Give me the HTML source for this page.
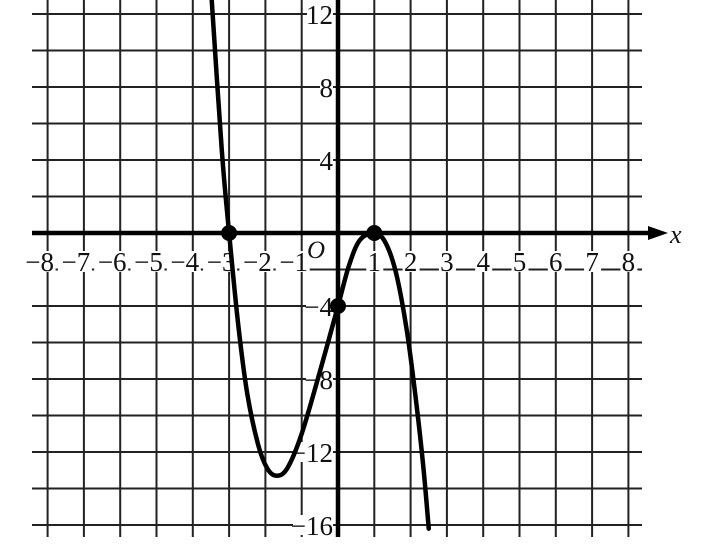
<!DOCTYPE html>
<html><head><meta charset="utf-8"><style>
html,body{margin:0;padding:0;background:#fff;}
svg{display:block;}
text{font-family:"Liberation Serif",serif;fill:#111;}
</style></head><body>
<svg id="chart" width="703" height="559" viewBox="0 0 703 559" xmlns="http://www.w3.org/2000/svg">
<g id="grid"></g>
<g id="axes"></g>
<g id="labels"></g>
<g id="curve"></g>
</svg>
<script>
const xTicks = [-8,-7,-6,-5,-4,-3,-2,-1,1,2,3,4,5,6,7,8];
const yTicks = [12,8,4,-4,-8,-12,-16];
const curveX = [-3.48,-3.2,-3,-2.75,-2.5,-2.2,-1.95,-1.7,-1.4,-1,-0.5,0,0.3,0.6,1,1.3,1.6,1.9,2.15,2.35,2.5];
const curveY = [12.8,4.5,0,-5,-8.8,-11.6,-12.9,-13.3,-12.9,-11,-7.6,-4,-1.8,-0.4,0,-0.5,-2.2,-5.4,-9.2,-12.8,-16.2];
const pointX = [-3,0,1];
const pointY = [0,-4,0];

const NS='http://www.w3.org/2000/svg';
const X0=338, UX=36.3, Y0=233, UY=18.25;
const sx=v=>X0+v*UX, sy=v=>Y0-v*UY;
function mk(tag,parent,attrs){const e=document.createElementNS(NS,tag);for(const k in attrs)e.setAttribute(k,attrs[k]);document.getElementById(parent).appendChild(e);return e;}

for(let i=-8;i<=8;i++){
  const l=mk('line','grid',{x1:sx(i),x2:sx(i),y1:0,y2:537,stroke:'#222','stroke-width':2});
  
  
}
for(let j=-16;j<=12;j+=2){
  if(j===0)continue;
  const l=mk('line','grid',{x1:32,x2:642,y1:sy(j),y2:sy(j),stroke:'#222','stroke-width':2});
  
  
}
let a=mk('line','axes',{x1:32,x2:655,y1:Y0,y2:Y0,stroke:'#000','stroke-width':4.5});


a=mk('polygon','axes',{points:`668,${Y0} 648,${Y0-7} 648,${Y0+7}`,fill:'#000'});


a=mk('line','axes',{x1:X0,x2:X0,y1:0,y2:537,stroke:'#000','stroke-width':4.5});



xTicks.forEach(v=>{
  const r=mk('rect','labels',{x:sx(v)-(v<0?26:8),y:251,width:v<0?34:17,height:21,fill:'#fff'});
  
  
  const tx=mk('text','labels',{x:sx(v)+(v<0?-8:0),y:271,'font-size':27,'text-anchor':'middle'});
  tx.textContent=(v<0?'\u2212':'')+Math.abs(v);
  
  
});
yTicks.forEach(v=>{
  const w=(v<0?14:0)+(Math.abs(v)>=10?26:13);
  const r=mk('rect','labels',{x:333-w,y:sy(v)-10,width:w,height:20,fill:'#fff'});
  
  
  const tx=mk('text','labels',{x:333,y:sy(v)+10,'font-size':27,'text-anchor':'end'});
  tx.textContent=(v<0?'\u2212':'')+Math.abs(v);
  
  
});
let t=mk('text','axes',{x:670,y:243,'font-size':26,'font-style':'italic'});t.textContent='x';


let ob=mk('rect','labels',{x:307,y:238,width:22,height:22,fill:'#fff'});


t=mk('text','labels',{x:307,y:258,'font-size':25,'font-style':'italic'});t.textContent='O';



const P=curveX.map((x,i)=>[sx(x),sy(curveY[i])]);
let d=`M${P[0][0]},${P[0][1]}`;
for(let i=0;i<P.length-1;i++){
  const p0=P[Math.max(0,i-1)],p1=P[i],p2=P[i+1],p3=P[Math.min(P.length-1,i+2)];
  const c1=[p1[0]+(p2[0]-p0[0])/6,p1[1]+(p2[1]-p0[1])/6];
  const c2=[p2[0]-(p3[0]-p1[0])/6,p2[1]-(p3[1]-p1[1])/6];
  d+=` C${c1[0]},${c1[1]} ${c2[0]},${c2[1]} ${p2[0]},${p2[1]}`;
}
const path=mk('path','curve',{d:d,fill:'none',stroke:'#000','stroke-width':4.5,'stroke-linecap':'round'});


pointX.forEach((x,i)=>{
  const c=mk('circle','curve',{cx:sx(x),cy:sy(pointY[i]),r:8,fill:'#000'});
  
  
});
</script>
</body></html>
